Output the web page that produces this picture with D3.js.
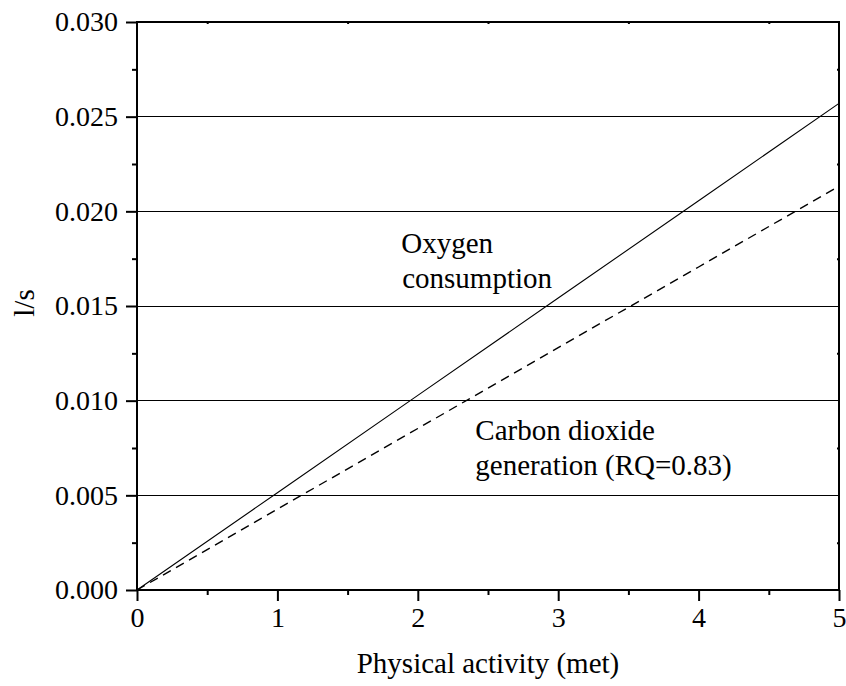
<!DOCTYPE html>
<html>
<head>
<meta charset="utf-8">
<script src="https://cdn.jsdelivr.net/npm/d3@7/dist/d3.min.js"></script>
<style>
  body { margin: 0; background: #fff; }
  text { font-family: "Liberation Serif", "Times New Roman", serif; fill: #000; }
</style>
</head>
<body>
<div id="canvas"></div>
<script>
// data
var met = [0, 1, 2, 3, 4, 5];
var oxygen = [0, 0.00514, 0.01028, 0.01542, 0.02056, 0.0257];
var co2 = [0, 0.00427, 0.00853, 0.0128, 0.01706, 0.02133];
var xTicks = [0, 1, 2, 3, 4, 5];
var yTicks = [0, 0.005, 0.010, 0.015, 0.020, 0.025, 0.030];
var gridTicks = [0.005, 0.010, 0.015, 0.020, 0.025];

var W = 846, H = 686;
var m = {t:22, r:7, b:96, l:137};
var w = W - m.l - m.r,
    h = H - m.t - m.b;

var svg = d3.select('#canvas')
    .append('svg')
    .attr('width', W)
    .attr('height', H);

var plot = svg.append('g')
    .attr('transform', 'translate(' + m.l + ',' + m.t + ')');

var scaleX = d3.scaleLinear().domain([0, 5]).range([0, w]);
var scaleY = d3.scaleLinear().domain([0, 0.030]).range([h, 0]);

//grid lines
plot.selectAll('.grid')
    .data(gridTicks)
    .enter()
    .append('line')
    .attr('class', 'grid')
    .attr('x1', 0).attr('x2', w)
    .attr('y1', function(d){ return scaleY(d); })
    .attr('y2', function(d){ return scaleY(d); })
    .attr('stroke', '#000')
    .attr('stroke-width', 1)
    .attr('shape-rendering', 'crispEdges');

//lines
var line = function(vals){
    return d3.line()
        .x(function(d, i){ return scaleX(met[i]); })
        .y(function(d){ return scaleY(d); })(vals);
};
plot.append('path')
    .attr('d', line(oxygen))
    .attr('fill', 'none')
    .attr('stroke', '#000')
    .attr('stroke-width', 1.1);
plot.append('path')
    .attr('d', line(co2))
    .attr('fill', 'none')
    .attr('stroke', '#000')
    .attr('stroke-width', 1.4)
    .attr('stroke-dasharray', '9,6');

//minor ticks
var xMinor = [0.5, 1.5, 2.5, 3.5, 4.5];
var yMinor = [0.0025, 0.0075, 0.0125, 0.0175, 0.0225, 0.0275];

function styleAxis(g){
    g.select('.domain').remove();
    g.selectAll('line').attr('stroke', '#000').attr('stroke-width', 2);
    g.selectAll('text').style('font-size', '28px')
        .style('font-family', '"Liberation Serif", "Times New Roman", serif');
}

plot.append('g')
    .attr('transform', 'translate(0,' + h + ')')
    .call(d3.axisBottom(scaleX).tickValues(xMinor).tickSize(5).tickFormat(''))
    .call(styleAxis);
plot.append('g')
    .call(d3.axisLeft(scaleY).tickValues(yMinor).tickSize(5).tickFormat(''))
    .call(styleAxis);

//major ticks and labels
var axisX = d3.axisBottom(scaleX)
    .tickValues(xTicks)
    .tickSize(11)
    .tickPadding(6)
    .tickFormat(d3.format('d'));
plot.append('g')
    .attr('class', 'axis axis-x')
    .attr('transform', 'translate(0,' + h + ')')
    .call(axisX)
    .call(styleAxis);

var axisY = d3.axisLeft(scaleY)
    .tickValues(yTicks)
    .tickSize(11)
    .tickPadding(8)
    .tickFormat(d3.format('.3f'));
plot.append('g')
    .attr('class', 'axis axis-y')
    .call(axisY)
    .call(styleAxis);

//top and right: tiny inward ticks
plot.append('g')
    .call(d3.axisTop(scaleX).tickValues(xMinor).tickSize(-2).tickFormat(''))
    .call(styleAxis);
plot.append('g')
    .attr('transform', 'translate(' + w + ',0)')
    .call(d3.axisRight(scaleY).tickValues(yMinor).tickSize(-2).tickFormat(''))
    .call(styleAxis);

//frame
plot.append('rect')
    .attr('x', 0).attr('y', 0)
    .attr('width', w).attr('height', h)
    .attr('fill', 'none')
    .attr('stroke', '#000')
    .attr('stroke-width', 2);

//annotations
var note = plot.append('g').style('font-size', '29px');
note.append('text').attr('x', scaleX(2.536)).attr('y', scaleY(0.01778))
    .attr('text-anchor', 'end').text('Oxygen');
note.append('text').attr('x', scaleX(2.956)).attr('y', scaleY(0.01595))
    .attr('text-anchor', 'end').text('consumption');
note.append('text').attr('x', scaleX(2.41)).attr('y', scaleY(0.00792)).text('Carbon dioxide');
note.append('text').attr('x', scaleX(2.41)).attr('y', scaleY(0.00607)).text('generation (RQ=0.83)');

//axis titles
svg.append('text')
    .attr('x', m.l + w / 2)
    .attr('y', 673)
    .attr('text-anchor', 'middle')
    .style('font-size', '29px')
    .text('Physical activity (met)');

svg.append('text')
    .attr('transform', 'translate(34,303) rotate(-90)')
    .attr('text-anchor', 'middle')
    .style('font-size', '29px')
    .text('l/s');
</script>
</body>
</html>
